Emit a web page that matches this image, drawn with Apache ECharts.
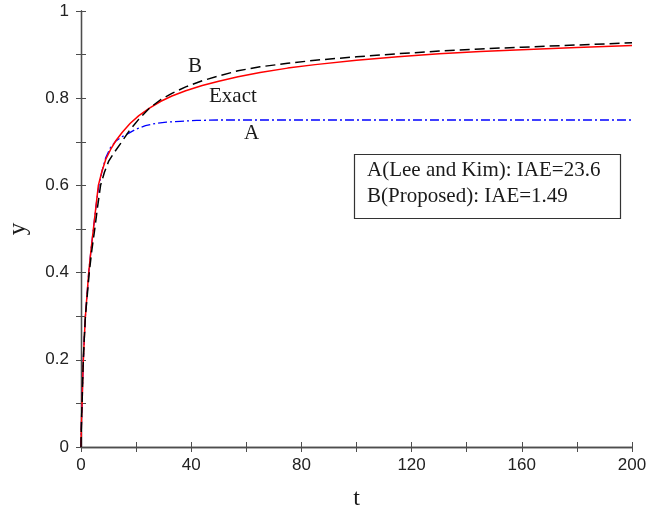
<!DOCTYPE html>
<html>
<head>
<meta charset="utf-8">
<script src="https://cdn.jsdelivr.net/npm/echarts@6/dist/echarts.min.js"></script>
<style>
html,body{margin:0;padding:0;background:#fff;}
#chart{width:661px;height:513px;}
</style>
</head>
<body>
<div id="chart"></div>
<script>
// Exact solution (red)
var tExact = [0, 0.1, 0.25, 0.4, 0.6, 0.85, 1.2, 1.6, 2.2, 2.8, 3.6, 4.5, 5.4, 6.3, 7.5, 9, 10.8, 12.7, 15, 17.8, 21, 25, 29, 33, 38, 44, 50, 57, 65, 75, 85, 100, 115, 130, 145, 160, 180, 200];
var yExact = [0, 0.04, 0.075, 0.1, 0.15, 0.2, 0.25, 0.3, 0.35, 0.4, 0.45, 0.5, 0.55, 0.6, 0.63, 0.66, 0.683, 0.703, 0.722, 0.742, 0.76, 0.778, 0.793, 0.805, 0.817, 0.829, 0.839, 0.849, 0.859, 0.869, 0.877, 0.887, 0.895, 0.902, 0.907, 0.911, 0.916, 0.921];
// B (Proposed, black dashed)
var tB = [0, 0.1, 0.25, 0.4, 0.6, 0.85, 1.2, 1.6, 2.3, 3, 3.9, 5, 6, 7.1, 8.5, 10, 12, 14.8, 17.5, 21, 25, 29, 33, 38, 44, 50, 57, 65, 75, 85, 100, 115, 130, 145, 160, 180, 200];
var yB = [0, 0.04, 0.075, 0.1, 0.15, 0.2, 0.25, 0.3, 0.35, 0.4, 0.45, 0.5, 0.55, 0.6, 0.63, 0.655, 0.675, 0.7, 0.725, 0.752, 0.778, 0.797, 0.811, 0.826, 0.84, 0.851, 0.863, 0.872, 0.88, 0.887, 0.895, 0.902, 0.908, 0.913, 0.917, 0.922, 0.927];
// A (Lee and Kim, blue dash-dot)
var tA = [0, 0.1, 0.25, 0.4, 0.6, 0.85, 1.2, 1.6, 2.2, 2.8, 3.6, 4.5, 5.4, 6.5, 7.7, 9, 10.8, 12.7, 15, 17.4, 20, 23.4, 27, 31, 36, 42, 50, 60, 80, 120, 200];
var yA = [0, 0.04, 0.075, 0.1, 0.15, 0.2, 0.25, 0.3, 0.35, 0.4, 0.45, 0.5, 0.55, 0.6, 0.635, 0.664, 0.688, 0.702, 0.712, 0.72, 0.729, 0.737, 0.742, 0.745, 0.747, 0.749, 0.75, 0.75, 0.75, 0.75, 0.75];

var xTickLabels = ['0', '40', '80', '120', '160', '200'];
var yTickLabels = ['0', '0.2', '0.4', '0.6', '0.8', '1'];
var annotations = ['B', 'Exact', 'A'];
var boxLines = ['A(Lee and Kim): IAE=23.6', 'B(Proposed): IAE=1.49'];

function pairs(t, y) { return t.map(function (v, i) { return [v, y[i]]; }); }

var axisColor = '#4d4d4d';
var sans = '"Liberation Sans", Arial, sans-serif';
var serif = '"Liberation Serif", "Times New Roman", serif';

var chart = echarts.init(document.getElementById('chart'), null, {renderer: 'canvas'});

function xFmt(v) { var s = String(Math.round(v)); return xTickLabels.indexOf(s) >= 0 ? s : ''; }
function yFmt(v) { var s = String(+v.toFixed(1)); return yTickLabels.indexOf(s) >= 0 ? s : ''; }

var commonAxisLine = {show: true, lineStyle: {color: axisColor, width: 1.3}};
var commonTick = {show: true, inside: true, length: 5, lineStyle: {color: axisColor, width: 1}};

chart.setOption({
  animation: false,
  backgroundColor: '#fff',
  grid: {left: 81, right: 29, top: 11, bottom: 66, containLabel: false, outerBoundsMode: 'none'},
  xAxis: [{
    type: 'value', min: 0, max: 200, interval: 20, position: 'bottom',
    name: 't', nameLocation: 'middle', nameGap: 40,
    nameTextStyle: {fontFamily: serif, fontSize: 24, color: '#1a1a1a'},
    axisLine: commonAxisLine, axisTick: commonTick,
    axisLabel: {formatter: xFmt, fontFamily: sans, fontSize: 17, color: '#222', margin: 10, showMinLabel: true, showMaxLabel: true},
    splitLine: {show: false}
  }, {
    type: 'value', min: 0, max: 200, interval: 20, position: 'top',
    axisLine: commonAxisLine, axisTick: commonTick,
    axisLabel: {show: false}, splitLine: {show: false}
  }],
  yAxis: [{
    type: 'value', min: 0, max: 1, interval: 0.1, position: 'left',
    name: 'y', nameLocation: 'middle', nameGap: 50, nameRotate: 90,
    nameTextStyle: {fontFamily: serif, fontSize: 25, color: '#1a1a1a'},
    axisLine: commonAxisLine, axisTick: commonTick,
    axisLabel: {formatter: yFmt, fontFamily: sans, fontSize: 17, color: '#222', margin: 12},
    splitLine: {show: false}
  }, {
    type: 'value', min: 0, max: 1, interval: 0.1, position: 'right',
    axisLine: commonAxisLine, axisTick: commonTick,
    axisLabel: {show: false}, splitLine: {show: false}
  }],
  series: [{
    name: 'Exact', type: 'line', data: pairs(tExact, yExact),
    smooth: false, showSymbol: false, z: 3,
    lineStyle: {color: '#ff0000', width: 1.5}
  }, {
    name: 'B', type: 'line', data: pairs(tB, yB),
    smooth: false, showSymbol: false, z: 4,
    lineStyle: {color: '#000000', width: 1.5, type: [10, 5]}
  }, {
    name: 'A', type: 'line', data: pairs(tA, yA),
    smooth: false, showSymbol: false, z: 2,
    lineStyle: {color: '#0000ff', width: 1.3, type: [9, 3, 2, 3]}
  }],
  graphic: [
    {type: 'text', left: 188, top: 56, style: {text: annotations[0], font: '21px ' + serif, fill: '#1a1a1a'}},
    {type: 'text', left: 209, top: 86, style: {text: annotations[1], font: '21px ' + serif, fill: '#1a1a1a'}},
    {type: 'text', left: 244, top: 123, style: {text: annotations[2], font: '21px ' + serif, fill: '#1a1a1a'}},
    {type: 'rect', shape: {x: 354.5, y: 154.5, width: 266, height: 64}, style: {fill: '#fff', stroke: '#333', lineWidth: 1.2}, z: 10},
    {type: 'text', left: 367, top: 160, z: 11, style: {text: boxLines[0], font: '21px ' + serif, fill: '#1a1a1a'}},
    {type: 'text', left: 367, top: 186, z: 11, style: {text: boxLines[1], font: '21px ' + serif, fill: '#1a1a1a'}}
  ]
});
</script>
</body>
</html>
